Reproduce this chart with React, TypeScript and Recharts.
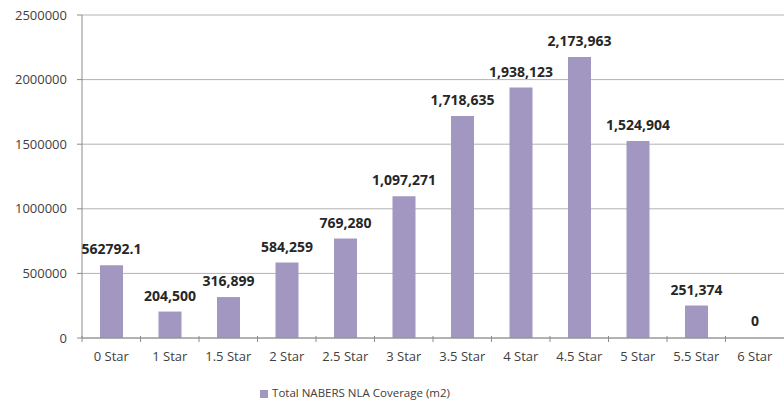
import { BarChart, Bar, XAxis, YAxis, CartesianGrid, Legend, LabelList, Cell } from "recharts";

const categories = ["0 Star", "1 Star", "1.5 Star", "2 Star", "2.5 Star", "3 Star", "3.5 Star", "4 Star", "4.5 Star", "5 Star", "5.5 Star", "6 Star"];
const coverage = [562792.1, 204500, 316899, 584259, 769280, 1097271, 1718635, 1938123, 2173963, 1524904, 251374, 0];
const valueLabels = ["562792.1", "204,500", "316,899", "584,259", "769,280", "1,097,271", "1,718,635", "1,938,123", "2,173,963", "1,524,904", "251,374", "0"];
const yTicks = [0, 500000, 1000000, 1500000, 2000000, 2500000];

const data = categories.map((name, i) => ({ name, value: coverage[i], label: valueLabels[i] }));

const FONT = "'Open Sans', 'Noto Sans', sans-serif";
const HALF_BAND = 29.25;

function StarTick(props: any) {
  const { x, y, payload } = props;
  return (
    <g>
      <line x1={x - HALF_BAND} x2={x - HALF_BAND} y1={y - 10} y2={y - 4} stroke="#8c8c8c" />
      <text x={x} y={y + 15} textAnchor="middle" fontSize={13} fill="#404040" fontFamily={FONT}>
        {payload.value}
      </text>
    </g>
  );
}

export default function App() {
  return (
    <div style={{ position: "absolute", left: 0, top: 0, width: 784, height: 408, background: "#fff" }}>
      <BarChart width={784} height={408} data={data} margin={{ top: 15, right: 0, left: 0, bottom: 8 }}>
        <CartesianGrid vertical={false} stroke="#b3b3b3" />
        <XAxis
          dataKey="name"
          tick={<StarTick />}
          tickLine={false}
          axisLine={{ stroke: "#8c8c8c" }}
          interval={0}
          height={47}
        />
        <YAxis
          width={82}
          ticks={yTicks}
          domain={[0, 2500000]}
          interval={0}
          tickSize={5}
          tickMargin={10}
          tickLine={{ stroke: "#8c8c8c" }}
          axisLine={{ stroke: "#8c8c8c" }}
          tick={{ fontSize: 13, fill: "#404040", fontFamily: FONT }}
        />
        <Legend
          verticalAlign="bottom"
          iconType="square"
          iconSize={8}
          wrapperStyle={{ fontSize: 11.5, fontFamily: FONT, color: "#404040", paddingLeft: 0, left: -32, width: 784 }}
          formatter={() => <span style={{ color: "#404040" }}>Total NABERS NLA Coverage (m2)</span>}
        />
        <Bar dataKey="value" fill="#a197c1" barSize={23} minPointSize={1} isAnimationActive={false} name="Total NABERS NLA Coverage (m2)">
          {data.map((d) => (
            <Cell key={d.name} fillOpacity={d.value === 0 ? 0 : 1} />
          ))}
          <LabelList dataKey="label" position="top" offset={11} fontSize={14} fontWeight="bold" fill="#262626" fontFamily={FONT} />
        </Bar>
      </BarChart>
    </div>
  );
}
